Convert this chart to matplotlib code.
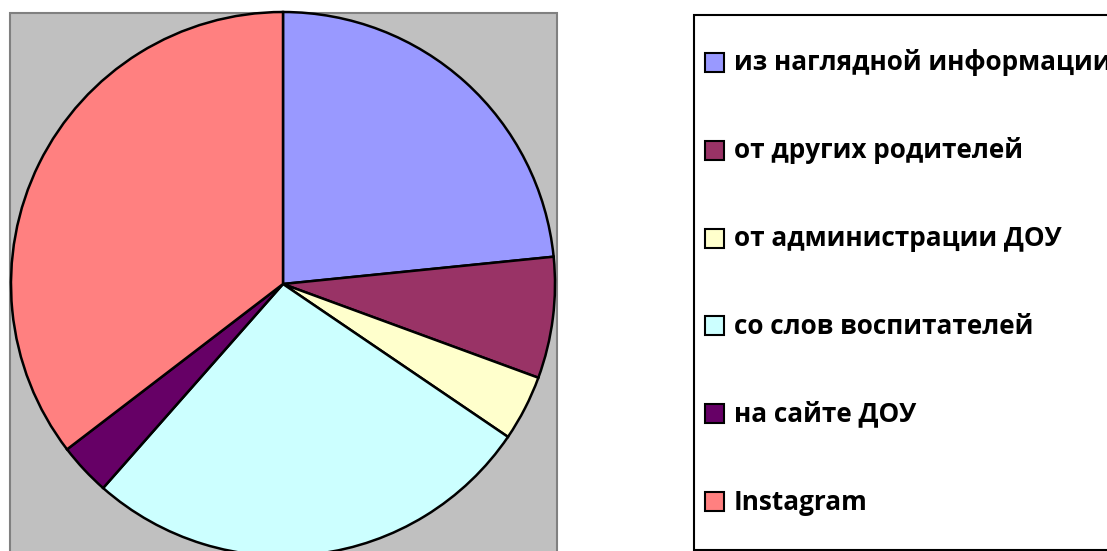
import matplotlib
matplotlib.use("Agg")
import matplotlib.pyplot as plt
from matplotlib.patches import Rectangle

# --- datos ---
labels = ["из наглядной информации", "от других родителей", "от администрации ДОУ",
          "со слов воспитателей", "на сайте ДОУ", "Instagram"]
values = [23.4, 7.2, 3.9, 27.0, 3.1, 35.4]
colors = ["#9999FF", "#993366", "#FFFFCC", "#CCFFFF", "#660066", "#FF8080"]

W, H = 1107, 551
fig = plt.figure(figsize=(W / 100, H / 100), dpi=100)
ax = fig.add_axes([0, 0, 1, 1])

# area del grafico (gris)
ax.add_patch(Rectangle((10, -20), 547, H - 13 + 20, facecolor="#C0C0C0",
                       edgecolor="#808080", linewidth=1.5, zorder=0))

wedges, _ = ax.pie(values, colors=colors, startangle=90, counterclock=False,
                   center=(283, H - 284), radius=272,
                   wedgeprops=dict(edgecolor="black", linewidth=1.8))
for w in wedges:
    w.set_zorder(2)

# leyenda a mano
ax.add_patch(Rectangle((694, 1), 450, H - 16, facecolor="white",
                       edgecolor="black", linewidth=1.5, zorder=1))
y0, dy = 63, 87.8
for i, (lab, w) in enumerate(zip(labels, wedges)):
    yc = H - (y0 + i * dy)
    ax.add_patch(Rectangle((705, yc - 9), 19, 19, facecolor=w.get_facecolor(),
                           edgecolor="black", linewidth=1.5, zorder=3))
    ax.text(734, yc, lab, fontsize=18.8, fontweight="bold", va="center", ha="left",
            family=["Open Sans", "DejaVu Sans"], zorder=3)

ax.set_xlim(0, W)
ax.set_ylim(0, H)
ax.set_aspect("auto")
ax.axis("off")

fig.savefig("out.png", dpi=100)
